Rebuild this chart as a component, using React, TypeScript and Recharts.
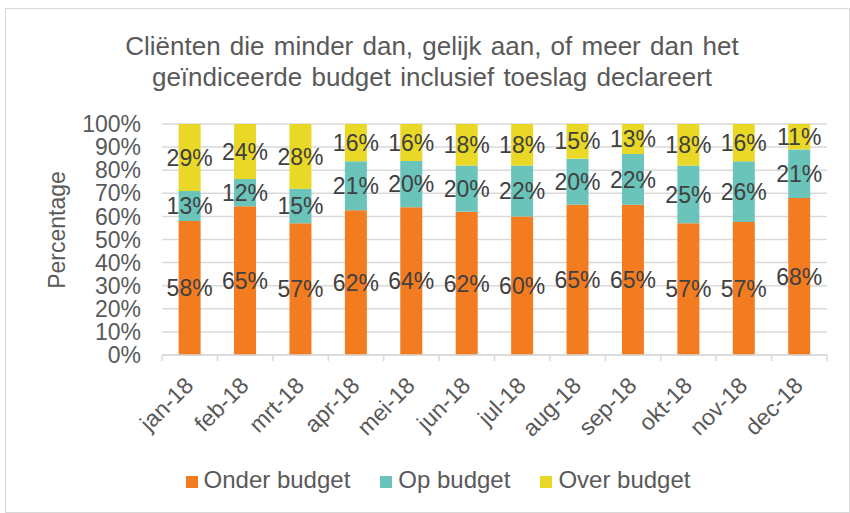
import React from 'react';
import { BarChart, Bar, XAxis, YAxis, CartesianGrid, Legend, LabelList } from 'recharts';

const months = ['jan-18', 'feb-18', 'mrt-18', 'apr-18', 'mei-18', 'jun-18', 'jul-18', 'aug-18', 'sep-18', 'okt-18', 'nov-18', 'dec-18'];
const onderBudget = [58, 65, 57, 62, 64, 62, 60, 65, 65, 57, 57, 68];
const opBudget = [13, 12, 15, 21, 20, 20, 22, 20, 22, 25, 26, 21];
const overBudget = [29, 24, 28, 16, 16, 18, 18, 15, 13, 18, 16, 11];
const yTicks = [0, 10, 20, 30, 40, 50, 60, 70, 80, 90, 100];

const data = months.map((m, i) => ({
    name: m,
    onder: onderBudget[i],
    op: opBudget[i],
    over: overBudget[i],
}));

const FONT = '"Liberation Sans", Arial, sans-serif';
const PLOT_LEFT = 162;
const PLOT_RIGHT = 827;
const PLOT_TOP = 124;
const PLOT_BOTTOM = 355;
const STEP = (PLOT_RIGHT - PLOT_LEFT) / months.length;
const LEGEND_H = 30;

const XTick = (props: any) => {
    const { x, payload, index } = props;
    const ax = PLOT_BOTTOM;
    const tx = x + 5;
    const ty = ax + 32;
    return (
        <g>
            <line x1={x - STEP / 2} y1={ax} x2={x - STEP / 2} y2={ax + 6} stroke="#d9d9d9" strokeWidth={1.5} />
            {index === months.length - 1 && (
                <line x1={x + STEP / 2} y1={ax} x2={x + STEP / 2} y2={ax + 6} stroke="#d9d9d9" strokeWidth={1.5} />
            )}
            <text x={tx} y={ty} transform={`rotate(-45, ${tx}, ${ty})`} textAnchor="end" fill="#595959" fontSize={23} fontFamily={FONT}>
                {payload.value}
            </text>
        </g>
    );
};

const pct = (v: any) => `${v}%`;

const App = () => {
    return (
        <div style={{ position: 'absolute', left: 0, top: 0, width: 850, height: 513, background: '#fff', fontFamily: FONT }}>
            <div style={{ position: 'absolute', left: 5, top: 8, width: 843, height: 503, border: '1px solid #d9d9d9' }} />
            <div style={{ position: 'absolute', left: 0, top: 31, width: 864, textAlign: 'center', fontSize: 26, lineHeight: '31px', color: '#595959', wordSpacing: 2 }}>
                Cliënten die minder dan, gelijk aan, of meer dan het
                <br />
                geïndiceerde budget inclusief toeslag declareert
            </div>
            <div style={{ position: 'absolute', left: 57, top: 230, width: 0, height: 0 }}>
                <div style={{ position: 'absolute', transform: 'translate(-50%, -50%) rotate(-90deg)', fontSize: 23, color: '#595959', whiteSpace: 'nowrap' }}>
                    Percentage
                </div>
            </div>
            <BarChart
                width={850}
                height={513}
                data={data}
                stackOffset="expand"
                barCategoryGap="30%"
                margin={{ top: PLOT_TOP, right: 850 - PLOT_RIGHT, left: PLOT_LEFT - 60, bottom: 513 - PLOT_BOTTOM - 90 - LEGEND_H }}
                style={{ position: 'absolute', left: 0, top: 0 }}
            >
                <CartesianGrid vertical={false} stroke="#d9d9d9" strokeWidth={1.5} />
                <XAxis
                    dataKey="name"
                    height={90}
                    interval={0}
                    stroke="#d9d9d9"
                    strokeWidth={1.5}
                    tickLine={false}
                    tick={<XTick />}
                />
                <YAxis
                    width={60}
                    domain={[0, 1]}
                    ticks={yTicks.map((t) => t / 100)}
                    tickFormatter={(v: number) => `${Math.round(v * 100)}%`}
                    axisLine={false}
                    tickLine={false}
                    tickSize={0}
                    tickMargin={21}
                    tick={{ fill: '#595959', fontSize: 23, fontFamily: FONT }}
                    interval={0}
                />
                <Legend
                    verticalAlign="bottom"
                    iconType="square"
                    iconSize={12}
                    wrapperStyle={{ position: 'absolute', top: 466, left: 17, width: 872, height: LEGEND_H, fontFamily: FONT, fontSize: 24 }}
                    formatter={(value: string) => (
                        <span style={{ color: '#595959', marginRight: 20, marginLeft: 2 }}>{value}</span>
                    )}
                />
                <Bar dataKey="onder" name="Onder budget" stackId="a" fill="#F47C20" isAnimationActive={false}>
                    <LabelList dataKey="onder" position="center" formatter={pct} fill="#404040" fontSize={23} fontFamily={FONT} />
                </Bar>
                <Bar dataKey="op" name="Op budget" stackId="a" fill="#6AC4BA" isAnimationActive={false}>
                    <LabelList dataKey="op" position="center" formatter={pct} fill="#404040" fontSize={23} fontFamily={FONT} />
                </Bar>
                <Bar dataKey="over" name="Over budget" stackId="a" fill="#EAD826" isAnimationActive={false}>
                    <LabelList dataKey="over" position="center" formatter={pct} fill="#404040" fontSize={23} fontFamily={FONT} />
                </Bar>
            </BarChart>
        </div>
    );
};

export default App;
